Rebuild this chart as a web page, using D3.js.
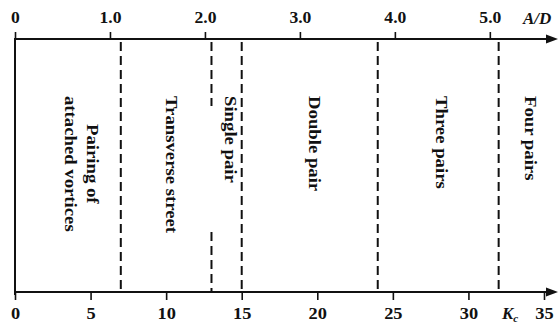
<!DOCTYPE html>
<html>
<head>
<meta charset="utf-8">
<script src="https://cdn.jsdelivr.net/npm/d3@7"></script>
<style>
  html, body { margin: 0; padding: 0; background: #fff; }
  svg { display: block; }
  text { font-family: "Liberation Serif", "Times New Roman", serif; font-weight: bold; fill: #111; }
</style>
</head>
<body>
<svg id="chart" width="560" height="332"></svg>
<script>
// Keulegan–Carpenter number ticks (bottom) and amplitude ratio ticks (top)
const kcTicks = [0, 5, 10, 15, 20, 25, 30, 35];
const adTicks = [0, 1, 2, 3, 4, 5];

// Regime boundaries in K_c
const boundaryKc = [7, 15, 24, 32];
const brokenBoundaryKc = [13];

// Regime names (multi-line entries stacked) and where each sits along K_c
const regimeNames = [
  ["Pairing of", "attached vortices"],
  ["Transverse street"],
  ["Single pair"],
  ["Double pair"],
  ["Three pairs"],
  ["Four pairs"]
];
const regimeKc = [4.3, 10.25, 14.15, 19.7, 28.1, 34.0];

const svg = d3.select("#chart");
const ink = "#111";

const yTop = 39, yBot = 292;
const x = d3.scaleLinear().domain([0, 35]).range([15, 544]);
// A/D relates to K_c through K_c = 2*pi*A/D
const xAD = d3.scaleLinear().domain([0, 35 / (2 * Math.PI)]).range(x.range());

// Left border
svg.append("line")
  .attr("x1", x(0)).attr("x2", x(0))
  .attr("y1", yTop - 1).attr("y2", yBot + 3)
  .attr("stroke", ink).attr("stroke-width", 2);

// Axis lines with arrow heads
function arrowAxis(y) {
  svg.append("line")
    .attr("x1", x(0)).attr("x2", 548)
    .attr("y1", y).attr("y2", y)
    .attr("stroke", ink).attr("stroke-width", 2);
  svg.append("path")
    .attr("d", `M546,${y - 4.5} L558,${y} L546,${y + 4.5} Z`)
    .attr("fill", ink);
}
arrowAxis(yTop);
arrowAxis(yBot);

function stretchText(sel, factor) {
  sel.each(function () {
    const len = this.getComputedTextLength();
    d3.select(this).attr("textLength", len * factor).attr("lengthAdjust", "spacingAndGlyphs");
  });
}

// Top axis: A/D
const topAxis = svg.append("g")
  .attr("transform", `translate(0,${yTop})`)
  .call(d3.axisTop(xAD).tickValues(adTicks).tickSize(7).tickPadding(9)
    .tickFormat(d => d === 0 ? "0" : d3.format(".1f")(d)));
topAxis.select(".domain").remove();
topAxis.selectAll(".tick line").attr("stroke", ink).attr("stroke-width", 1.6);
topAxis.selectAll(".tick text")
  .attr("fill", ink).style("font-size", "16px").attr("font-family", null);
stretchText(topAxis.selectAll(".tick text"), 1.1);

// Bottom axis: K_c
const botAxis = svg.append("g")
  .attr("transform", `translate(0,${yBot})`)
  .call(d3.axisBottom(x).tickValues(kcTicks).tickSize(8).tickPadding(7));
botAxis.select(".domain").remove();
botAxis.selectAll(".tick line").attr("stroke", ink).attr("stroke-width", 1.6);
botAxis.selectAll(".tick text")
  .attr("fill", ink).style("font-size", "17px").attr("font-family", null);
stretchText(botAxis.selectAll(".tick text"), 1.08);

// Axis titles
svg.append("text")
  .attr("x", 523).attr("y", 24)
  .style("font-size", "17px").style("font-style", "italic")
  .text("A/D");
const kcLabel = svg.append("text")
  .attr("x", 502).attr("y", 319)
  .style("font-size", "17px").style("font-style", "italic");
kcLabel.append("tspan").text("K");
kcLabel.append("tspan").attr("dy", 3).style("font-size", "11px").text("c");

// Regime boundaries
const dash = "9,5";
svg.selectAll("line.boundary")
  .data(boundaryKc)
  .join("line")
  .attr("class", "boundary")
  .attr("x1", d => x(d)).attr("x2", d => x(d))
  .attr("y1", yTop + 3).attr("y2", yBot)
  .attr("stroke", ink).attr("stroke-width", 2)
  .attr("stroke-dasharray", dash);

// Boundary that is only drawn near the two axes
brokenBoundaryKc.forEach(k => {
  [[yTop + 3, 106], [232, yBot]].forEach(([a, b]) => {
    svg.append("line")
      .attr("x1", x(k)).attr("x2", x(k))
      .attr("y1", a).attr("y2", b)
      .attr("stroke", ink).attr("stroke-width", 2)
      .attr("stroke-dasharray", dash);
  });
});

// Regime names, rotated to read downwards
const fs = 16, lineGap = 22, stretch = 1.17, topY = 96;
regimeNames.forEach((lines, i) => {
  const g = svg.append("g")
    .attr("transform", `translate(${x(regimeKc[i])},${topY}) rotate(90)`);
  const texts = lines.map((s, j) => g.append("text")
    .style("font-size", fs + "px")
    .attr("y", (j - (lines.length - 1) / 2) * lineGap + 0.22 * fs)
    .text(s));
  const lens = texts.map(t => t.node().getComputedTextLength() * stretch);
  const maxLen = d3.max(lens);
  texts.forEach((t, j) => {
    t.attr("x", (maxLen - lens[j]) / 2)
      .attr("textLength", lens[j])
      .attr("lengthAdjust", "spacingAndGlyphs");
  });
});
</script>
</body>
</html>
